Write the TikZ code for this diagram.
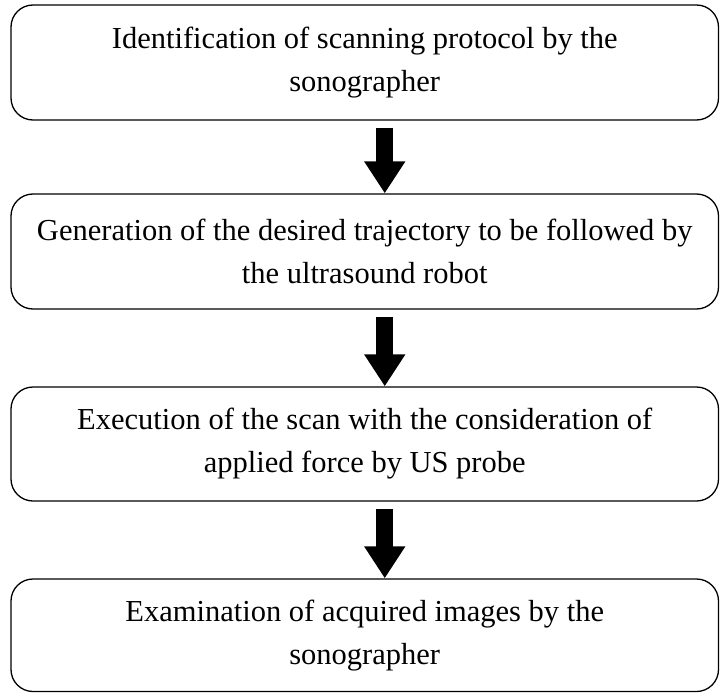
\documentclass[tikz,border=0pt]{standalone}
\usepackage{fontspec}
\setmainfont{Liberation Serif}
\usetikzlibrary{arrows.meta}
\tikzset{
  stepbox/.style={draw, line width=1.3pt, rounded corners=22pt, minimum width=707.5pt,
    align=center, inner sep=0pt,
    font=\fontsize{30.5}{43}\selectfont},
  bigarrow/.style={line width=17pt, -{Triangle[width=39pt,length=32pt]}}
}
\begin{document}
\begin{tikzpicture}[x=1pt,y=-1pt]
\useasboundingbox (0,0) rectangle (720,693);
\node[stepbox, minimum height=115pt] (b1) at (364.75,62.5) {Identification of scanning protocol by the\\sonographer};
\node[stepbox, minimum height=115pt] (b2) at (364.75,251.5) {Generation of the desired trajectory to be followed by\\the ultrasound robot};
\node[stepbox, minimum height=114pt] (b3) at (364.75,444) {Execution of the scan with the consideration of\\applied force by US probe};
\node[stepbox, minimum height=112.5pt] (b4) at (364.75,635.25) {Examination of acquired images by the\\sonographer};
\draw[bigarrow] ([xshift=20pt,yshift=-7pt]b1.south) -- ([xshift=20pt]b2.north);
\draw[bigarrow] ([xshift=20pt,yshift=-7pt]b2.south) -- ([xshift=20pt]b3.north);
\draw[bigarrow] ([xshift=20pt,yshift=-7pt]b3.south) -- ([xshift=20pt]b4.north);
\end{tikzpicture}
\end{document}
